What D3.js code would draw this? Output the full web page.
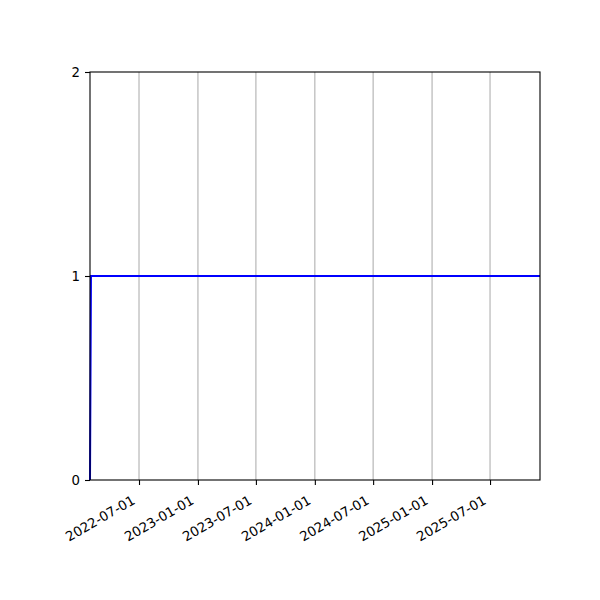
<!DOCTYPE html>
<html>
<head>
<meta charset="utf-8">
<script src="https://cdn.jsdelivr.net/npm/d3@7"></script>
<style>
  body { margin: 0; background: #fff; }
  text { font-family: "DejaVu Sans", sans-serif; }
</style>
</head>
<body>
<svg id="canvas" width="600" height="600"></svg>
<script>
// series: a step from 0 up to 1 right at the start, then flat
const dates = ["2022-01-29", "2022-02-01", "2025-12-04"];
const values = [0, 1, 1];
const xTicks = ["2022-07-01", "2023-01-01", "2023-07-01", "2024-01-01", "2024-07-01", "2025-01-01", "2025-07-01"];
const yTicks = [0, 1, 2];

const parse = d3.utcParse("%Y-%m-%d");
const points = dates.map((d, i) => ({ date: parse(d), value: values[i] }));

const margin = { top: 72, right: 60, bottom: 120, left: 90 };
const width = 600 - margin.left - margin.right;
const height = 600 - margin.top - margin.bottom;

const canvas = d3.select("#canvas");
const g = canvas.append("g").attr("transform", `translate(${margin.left},${margin.top})`);

const x = d3.scaleUtc()
  .domain(d3.extent(points, (d) => d.date))
  .range([0, width]);

const y = d3.scaleLinear()
  .domain([0, 2])
  .range([height, 0]);

// vertical grid
g.selectAll(".grid")
  .data(xTicks.map(parse))
  .enter()
  .append("line")
  .attr("class", "grid")
  .attr("x1", (d) => x(d))
  .attr("x2", (d) => x(d))
  .attr("y1", 0)
  .attr("y2", height)
  .attr("stroke", "#b0b0b0")
  .attr("stroke-width", 1.1);

const line = d3.line()
  .x((d) => x(d.date))
  .y((d) => y(d.value));

g.append("path")
  .datum(points)
  .attr("d", line)
  .attr("fill", "none")
  .attr("stroke", "#0000ff")
  .attr("stroke-width", 2);

// x axis
const xAxis = g.append("g")
  .attr("transform", `translate(0,${height})`)
  .call(d3.axisBottom(x)
    .tickValues(xTicks.map(parse))
    .tickFormat(d3.utcFormat("%Y-%m-%d"))
    .tickSizeOuter(0)
    .tickSize(5)
    .tickPadding(5));
xAxis.select(".domain").remove();
xAxis.selectAll(".tick line").attr("stroke", "#000").attr("stroke-width", 1.1);
xAxis.selectAll(".tick text")
  .attr("font-size", 13.3)
  .attr("fill", "#000")
  .attr("text-anchor", "end")
  .attr("x", -3.5)
  .attr("y", 23)
  .attr("dy", 0)
  .attr("transform", "rotate(-30, -3.5, 23)");

// y axis
const yAxis = g.append("g")
  .call(d3.axisLeft(y)
    .tickValues(yTicks)
    .tickFormat(d3.format("d"))
    .tickSizeOuter(0)
    .tickSize(5)
    .tickPadding(5));
yAxis.select(".domain").remove();
yAxis.selectAll(".tick line").attr("stroke", "#000").attr("stroke-width", 1.1);
yAxis.selectAll(".tick text").attr("font-size", 13.3).attr("fill", "#000");

// frame
g.append("rect")
  .attr("width", width)
  .attr("height", height)
  .attr("fill", "none")
  .attr("stroke", "#000")
  .attr("stroke-width", 1.1);
</script>
</body>
</html>
